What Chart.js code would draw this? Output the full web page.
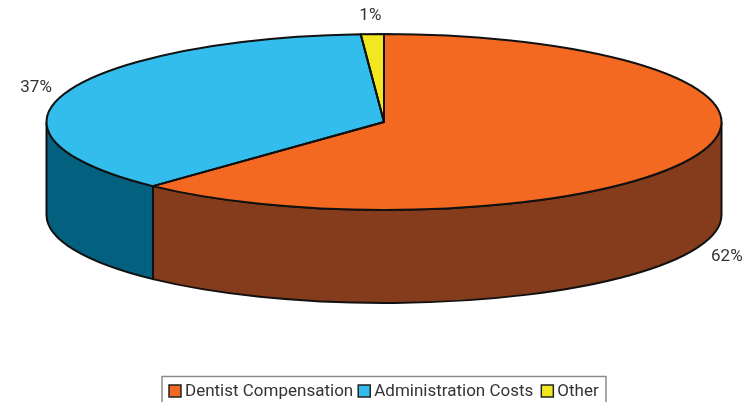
<!DOCTYPE html>
<html>
<head>
<meta charset="utf-8">
<title>Cost breakdown</title>
<script src="https://cdn.jsdelivr.net/npm/chart.js@4/dist/chart.umd.js"></script>
<style>
  html, body { margin: 0; padding: 0; background: #fff; overflow: hidden; }
  canvas { display: block; }
</style>
</head>
<body>
<canvas id="myChart" width="754" height="402"></canvas>
<script>
// chart data
var categories = ['Dentist Compensation', 'Administration Costs', 'Other'];
var shares = [62, 36.9, 1.1];
var topColors = ['#f46921', '#33bdec', '#f2e821'];
var wallColors = ['#843c1c', '#03607f', '#8a8410'];

// the flattened pie on the page
var centerX = 384, centerY = 122;
var radiusX = 337.5, radiusY = 88;
var depth = 93;
var outline = '#111';
var textColor = '#333';
var fontName = 'Roboto, sans-serif';

// label shift from the rim point at the middle of each slice
var labelShift = [[29, 102], [-30, -5], [-2, -18]];

// draws the side wall under the slices, and moves the pie into its ellipse
var pie3d = {
    id: 'pie3d',
    beforeDatasetsDraw: function(chart) {
        var ctx = chart.ctx;
        var arcs = chart.getDatasetMeta(0).data;

        ctx.save();
        ctx.lineWidth = 2;
        ctx.strokeStyle = outline;
        arcs.forEach(function(arc, i) {
            // only the front half of the rim can be seen
            var from = Math.max(arc.startAngle, 0);
            var to = Math.min(arc.endAngle, Math.PI);
            if (to <= from) return;
            ctx.beginPath();
            ctx.ellipse(centerX, centerY, radiusX, radiusY, 0, from, to);
            ctx.ellipse(centerX, centerY + depth, radiusX, radiusY, 0, to, from, true);
            ctx.closePath();
            ctx.fillStyle = wallColors[i];
            ctx.fill();
            ctx.stroke();
        });
        ctx.restore();

        var first = arcs[0];
        ctx.save();
        ctx.translate(centerX, centerY);
        ctx.scale(radiusX / first.outerRadius, radiusY / first.outerRadius);
        ctx.translate(-first.x, -first.y);
    },
    afterDatasetsDraw: function(chart) {
        var ctx = chart.ctx;
        var arcs = chart.getDatasetMeta(0).data;
        ctx.restore();

        // outlines go here so the line width is not squashed
        ctx.save();
        ctx.lineWidth = 2;
        ctx.strokeStyle = outline;
        ctx.lineJoin = 'round';
        arcs.forEach(function(arc) {
            ctx.beginPath();
            ctx.moveTo(centerX, centerY);
            ctx.ellipse(centerX, centerY, radiusX, radiusY, 0, arc.startAngle, arc.endAngle);
            ctx.closePath();
            ctx.stroke();
        });

        // percent labels
        var total = shares.reduce(function(a, b) { return a + b; }, 0);
        ctx.fillStyle = textColor;
        ctx.font = '17px ' + fontName;
        ctx.textAlign = 'center';
        ctx.textBaseline = 'middle';
        arcs.forEach(function(arc, i) {
            var mid = (arc.startAngle + arc.endAngle) / 2;
            var x = centerX + radiusX * Math.cos(mid) + labelShift[i][0];
            var y = centerY + radiusY * Math.sin(mid) + labelShift[i][1];
            ctx.fillText(Math.round(shares[i] / total * 100) + '%', x, y);
        });
        ctx.restore();
    },
    afterDraw: function(chart) {
        // legend by hand, the gap next to the box is tighter than the built in one
        // its frame runs off the bottom of the picture
        var ctx = chart.ctx;
        var gaps = [5, 8, 0];
        ctx.save();
        ctx.strokeStyle = '#8c8c8c';
        ctx.lineWidth = 1.5;
        ctx.strokeRect(162, 376.5, 444, 40);

        ctx.font = '17px ' + fontName;
        ctx.textAlign = 'left';
        ctx.textBaseline = 'middle';
        var x = 169;
        categories.forEach(function(name, i) {
            ctx.fillStyle = topColors[i];
            ctx.strokeStyle = '#222';
            ctx.fillRect(x, 385, 12, 12);
            ctx.strokeRect(x, 385, 12, 12);
            ctx.fillStyle = textColor;
            ctx.fillText(name, x + 16, 391.5);
            x += 16 + ctx.measureText(name).width + gaps[i];
        });
        ctx.restore();
    }
};

var myChart = new Chart(document.getElementById('myChart').getContext('2d'), {
    type: 'pie',
    data: {
        labels: categories,
        datasets: [{
            data: shares,
            backgroundColor: topColors,
            borderWidth: 0,
            clip: false
        }]
    },
    options: {
        responsive: false,
        animation: false,
        plugins: {
            tooltip: { enabled: false },
            legend: { display: false }
        }
    },
    plugins: [pie3d]
});
</script>
</body>
</html>
